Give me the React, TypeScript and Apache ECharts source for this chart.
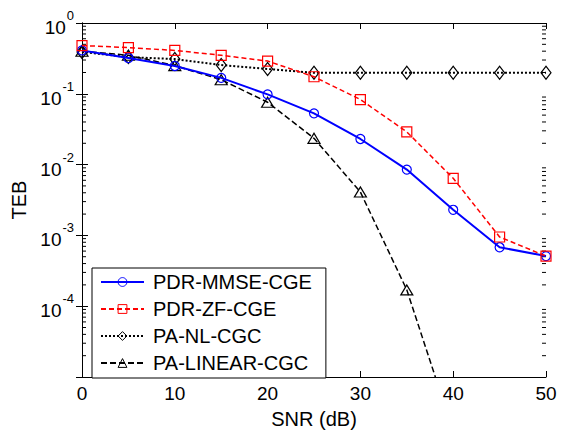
import React, { useEffect, useRef } from "react";
import * as echarts from "echarts";

const snr = [0, 5, 10, 15, 20, 25, 30, 35, 40, 45, 50];
const pdrMmse = [0.41, 0.32, 0.247, 0.168, 0.098, 0.053, 0.023, 0.0085, 0.0023, 0.00068, 0.00051];
const pdrZf = [0.48, 0.45, 0.41, 0.35, 0.29, 0.174, 0.083, 0.029, 0.0064, 0.00095, 0.00051];
const paNl = [0.39, 0.33, 0.31, 0.255, 0.224, 0.198, 0.198, 0.198, 0.198, 0.198, 0.198];
const paLinear = [0.4, 0.35, 0.25, 0.158, 0.076, 0.0235, 0.0041, 0.00017, 0.0000017];

const seriesNames = ["PDR-MMSE-CGE", "PDR-ZF-CGE", "PA-NL-CGC", "PA-LINEAR-CGC"];
const yMin = 1e-5;
const yMax = 1;
const minorDecades = [-5, -4, -3, -2, -1];
const minorMultipliers = [2, 3, 4, 5, 6, 7, 8, 9];

const FONT = 'Arial, "Liberation Sans", Helvetica, sans-serif';

function pairs(ys: number[]) {
  return ys.map((y, i) => [snr[i], y]);
}

export default function App() {
  const ref = useRef<HTMLDivElement>(null);
  useEffect(() => {
    if (!ref.current) return;
    const chart = echarts.init(ref.current, undefined, { renderer: "svg" });
    const minorVals: number[][] = [];
    minorDecades.forEach((d) =>
      minorMultipliers.forEach((m) => minorVals.push([0, m * Math.pow(10, d)]))
    );
    const yLabel = (v: number) => {
      const e = Math.round(Math.log10(v));
      if (e <= -5) return "";
      return `{b|10}{s|${e}}`;
    };
    const tickStyle = { show: true, inside: true, length: 6, lineStyle: { color: "#000", width: 1 } };
    const axisLine = { show: true, lineStyle: { color: "#000", width: 1 } };
    const mk = (color: string) => ({
      color: "rgba(255,255,255,0)",
      borderColor: color,
      borderWidth: 1.2,
    });
    chart.setOption({
      animation: false,
      backgroundColor: "#fff",
      textStyle: { fontFamily: FONT },
      grid: { left: 82, right: 17, top: 23, bottom: 49 },
      xAxis: [
        {
          type: "value",
          min: 0,
          max: 50,
          interval: 10,
          name: "SNR (dB)",
          nameLocation: "middle",
          nameGap: 32,
          nameTextStyle: { fontSize: 20, color: "#000", fontFamily: FONT },
          axisLine,
          axisTick: tickStyle,
          splitLine: { show: false },
          axisLabel: { fontSize: 19, color: "#000", margin: 7, fontFamily: FONT },
        },
        {
          type: "value",
          position: "top",
          min: 0,
          max: 50,
          interval: 10,
          axisLine,
          axisTick: tickStyle,
          splitLine: { show: false },
          axisLabel: { show: false },
        },
      ],
      yAxis: [
        {
          type: "log",
          logBase: 10,
          min: yMin,
          max: yMax,
          name: "TEB",
          nameLocation: "middle",
          nameGap: 38,
          nameTextStyle: { fontSize: 20, color: "#000", fontFamily: FONT },
          axisLine,
          axisTick: tickStyle,
          splitLine: { show: false },
          axisLabel: {
            margin: 8,
            formatter: yLabel,
            rich: {
              b: { fontSize: 19, color: "#000", fontFamily: FONT, lineHeight: 28, verticalAlign: "bottom" },
              s: { fontSize: 13, color: "#000", fontFamily: FONT, lineHeight: 14, verticalAlign: "top", padding: [0, 0, 0, 1] },
            },
          },
        },
        {
          type: "log",
          logBase: 10,
          min: yMin,
          max: yMax,
          position: "right",
          axisLine,
          axisTick: tickStyle,
          splitLine: { show: false },
          axisLabel: { show: false },
        },
      ],
      legend: {
        data: seriesNames,
        orient: "vertical",
        left: 92,
        top: 268,
        padding: [4, 14, 5, 8],
        borderColor: "#000",
        borderWidth: 1,
        backgroundColor: "#fff",
        itemWidth: 43,
        itemHeight: 11,
        itemGap: 7,
        align: "left",
        itemStyle: { color: "rgba(255,255,255,0)", borderWidth: 1 },
        textStyle: { fontSize: 20, color: "#000", fontFamily: FONT, lineHeight: 20, padding: [0, 0, 0, 4] },
      },
      series: [
        {
          name: seriesNames[0],
          type: "line",
          data: pairs(pdrMmse),
          symbol: "circle",
          symbolSize: 9,
          lineStyle: { color: "#0000ff", width: 2, type: "solid" },
          itemStyle: mk("#0000ff"),
          z: 4,
        },
        {
          name: seriesNames[1],
          type: "line",
          data: pairs(pdrZf),
          symbol: "rect",
          symbolSize: 10,
          lineStyle: { color: "#ff0000", width: 1.5, type: [5, 3] },
          itemStyle: mk("#ff0000"),
          z: 5,
        },
        {
          name: seriesNames[2],
          type: "line",
          data: pairs(paNl),
          symbol: "diamond",
          symbolSize: [10, 13],
          lineStyle: { color: "#000", width: 2, type: [2, 2] },
          itemStyle: mk("#000"),
          z: 3,
        },
        {
          name: seriesNames[3],
          type: "line",
          data: pairs(paLinear),
          symbol: "triangle",
          symbolSize: [12, 10],
          lineStyle: { color: "#000", width: 1.5, type: [6, 3] },
          itemStyle: mk("#000"),
          clip: true,
          z: 3,
        },
        {
          type: "custom",
          silent: true,
          clip: false,
          data: minorVals,
          renderItem: (_p: any, api: any) => {
            const v = api.value(1);
            const l = api.coord([0, v]);
            const r = api.coord([50, v]);
            return {
              type: "group",
              children: [
                { type: "line", shape: { x1: l[0], y1: l[1], x2: l[0] + 4, y2: l[1] }, style: { stroke: "#000", lineWidth: 1 } },
                { type: "line", shape: { x1: r[0] - 4, y1: r[1], x2: r[0], y2: r[1] }, style: { stroke: "#000", lineWidth: 1 } },
              ],
            };
          },
          z: 2,
        },
      ],
    });
    return () => chart.dispose();
  }, []);
  return <div ref={ref} style={{ position: "fixed", left: 0, top: 0, width: 563, height: 434 }} />;
}
